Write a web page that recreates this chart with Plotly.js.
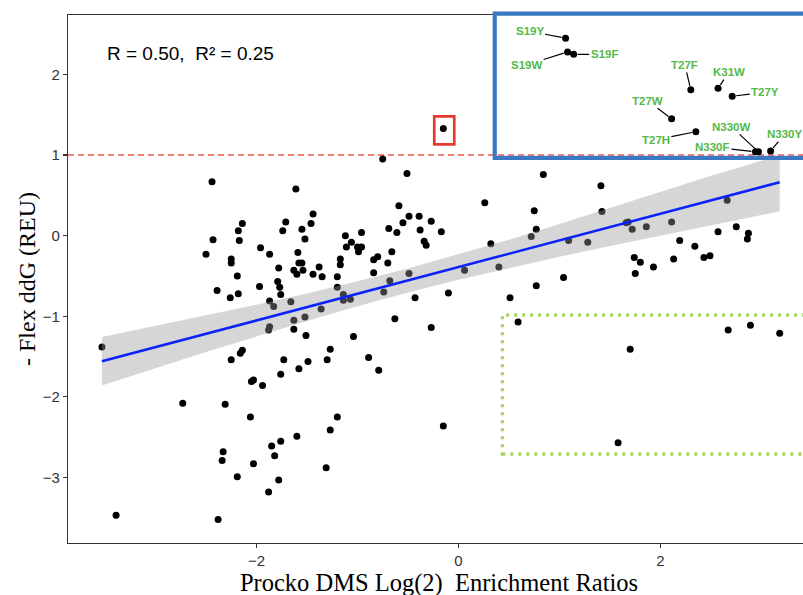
<!DOCTYPE html>
<html>
<head>
<meta charset="utf-8">
<script src="https://cdn.plot.ly/plotly-3.0.1.min.js"></script>
<style>
html,body{margin:0;padding:0;overflow:hidden;background:#fff;}
#chart{width:810px;height:597px;}
</style>
</head>
<body>
<div id="chart"></div>
<script>
// ---- data ----
const dmsX = [-0.15,-0.75,-0.51,-2.44,-1.61,0.84,1.41,0.26,
 -1.44,-1.46,-1.55,-1.71,-1.74,-2.14,-2.18,-2.17,-2.43,-1.52,-1.96,-1.87,-1.59,-2.50,-2.25,-2.25,-1.78,-1.63,-1.58,-1.55,-1.60,-1.54,-1.38,-1.44,-1.35,-2.19,-1.79,-1.77,-1.76,-1.97,-2.39,-2.18,-2.26,-1.87,-1.83,-1.66,-1.63,-1.52,-1.36,-1.87,-1.88,-1.63,-1.51,-2.14,-2.16,-1.27,-3.53,
 -0.59,-0.49,-0.39,-0.55,-0.27,-0.69,-0.61,-0.38,-0.17,-0.96,-1.12,-1.06,-1.11,-1.00,-0.96,-0.99,-0.34,-0.32,-0.66,-1.17,-1.17,-0.84,-0.80,-0.70,-1.20,-0.84,-1.20,-1.14,-1.14,-1.07,-0.68,-0.74,-0.49,-0.43,-0.10,0.06,-0.63,-0.27,-1.04,
 0.75,0.77,1.42,0.72,0.32,0.40,1.09,1.28,1.68,1.66,1.72,1.86,2.11,2.66,2.57,2.75,2.87,2.86,2.19,2.34,2.43,2.49,2.13,1.74,1.80,1.75,1.93,1.04,0.77,0.51,0.59,1.70,2.67,2.89,3.18,1.58,
 -2.25,-1.73,-1.49,-1.30,-0.89,-0.79,-1.58,-1.76,-2.05,-2.03,-1.94,-2.73,-2.31,-2.06,-1.20,-1.27,-0.15,-1.60,-1.76,-1.85,-1.82,-2.33,-2.34,-2.03,-1.31,-2.19,-1.78,-1.88,-3.39,-2.38];
const ddgY = [1.33,0.95,0.77,0.67,0.58,0.76,0.62,0.41,
 0.27,0.15,0.08,0.17,0.06,0.15,0.06,-0.06,-0.05,-0.04,-0.15,-0.23,-0.21,-0.23,-0.29,-0.34,-0.40,-0.43,-0.34,-0.34,-0.48,-0.43,-0.39,-0.48,-0.51,-0.50,-0.57,-0.64,-0.73,-0.63,-0.68,-0.72,-0.77,-0.81,-0.88,-0.82,-1.05,-1.01,-0.91,-1.13,-1.17,-1.16,-1.24,-1.42,-1.46,-1.41,-1.38,
 0.37,0.24,0.24,0.16,0.18,0.09,0.04,0.07,0.05,0.04,0.00,-0.08,-0.14,-0.14,-0.14,-0.20,-0.07,-0.12,-0.20,-0.29,-0.36,-0.30,-0.26,-0.34,-0.51,-0.46,-0.64,-0.73,-0.80,-0.79,-0.56,-0.70,-0.47,-0.77,-0.71,-0.43,-1.03,-1.14,-1.25,
 0.31,0.08,0.30,-0.01,-0.10,-0.39,-0.06,-0.08,0.17,0.16,0.08,0.11,0.17,0.44,0.05,0.11,0.03,-0.04,-0.06,-0.13,-0.27,-0.25,-0.29,-0.27,-0.33,-0.47,-0.39,-0.52,-0.62,-0.77,-1.07,-1.41,-1.17,-1.11,-1.21,-2.57,
 -1.54,-1.54,-1.56,-1.54,-1.51,-1.67,-1.65,-1.72,-1.81,-1.79,-1.86,-2.08,-2.09,-2.25,-2.25,-2.41,-2.36,-2.49,-2.55,-2.61,-2.73,-2.68,-2.79,-2.83,-2.88,-2.99,-3.03,-3.18,-3.47,-3.52];

// labelled variants (inset)
const insetLabels = ["S19Y","S19W","S19F","T27F","K31W","T27Y","T27W","T27H","N330W","N330F","N330Y"];
const insetX = [1.06,1.08,1.14,2.30,2.57,2.71,2.11,2.35,2.97,2.94,3.09];
const insetY = [2.45,2.28,2.25,1.81,1.83,1.73,1.45,1.29,1.04,1.04,1.05];

// linear fit and its confidence band
const fitX   = [-3.53,-3,-2.5,-2,-1.5,-1,-0.5,0,0.5,1,1.5,2,2.5,3,3.18];
const fitY   = [-1.558,-1.383,-1.218,-1.052,-0.887,-0.721,-0.556,-0.39,-0.225,-0.059,0.107,0.272,0.438,0.603,0.663];
const bandHi = [-1.258,-1.122,-0.992,-0.856,-0.716,-0.566,-0.406,-0.232,-0.049,0.144,0.342,0.542,0.745,0.93,0.98];
const bandLo = [-1.858,-1.644,-1.444,-1.248,-1.058,-0.876,-0.706,-0.548,-0.401,-0.262,-0.128,0.002,0.131,0.257,0.303];

const statText = "R = 0.50,  R\u00B2 = 0.25";
const xTicks = [-2,0,2];
const yTicks = [-3,-2,-1,0,1,2];

// ---- layout helpers (positions / styles) ----
const labelOffsets = [[-36,-7],[-41,13],[31,0],[-6,-25],[11,-16],[33,-4],[-24,-18],[-40,8],[-27,-25],[-43,-5],[14,-17]];
const green = "#55b84a";

const traces = [
  {x: dmsX.concat(insetX), y: ddgY.concat(insetY), type:'scatter', mode:'markers',
   marker:{color:'#000', size:7}, hoverinfo:'skip', showlegend:false},
  {x: fitX.concat(fitX.slice().reverse()), y: bandHi.concat(bandLo.slice().reverse()),
   type:'scatter', mode:'lines', fill:'toself', fillcolor:'rgba(153,153,153,0.4)',
   line:{width:0}, hoverinfo:'skip', showlegend:false},
  {x: fitX, y: fitY, type:'scatter', mode:'lines', line:{color:'#0b22fa', width:2.6},
   hoverinfo:'skip', showlegend:false}
];

const annotations = insetLabels.map((t,i)=>({
  x: insetX[i], y: insetY[i], xref:'x', yref:'y', text:'<b>'+t+'</b>',
  showarrow:true, ax: labelOffsets[i][0], ay: labelOffsets[i][1],
  arrowhead:0, arrowwidth:1.2, arrowcolor:'#000', standoff:4, startstandoff:0,
  font:{family:'Liberation Sans, Arial, sans-serif', size:11.5, color:green}
}));
annotations.push({x:-2.649, y:2.263, xref:'x', yref:'y', text: statText, showarrow:false,
  xanchor:'center', yanchor:'middle',
  font:{family:'Liberation Sans, Arial, Helvetica, sans-serif', size:19, color:'#000'}});

const layout = {
  width:810, height:597,
  margin:{l:68, r:0, t:15, b:54},
  paper_bgcolor:'#fff', plot_bgcolor:'#fff',
  showlegend:false,
  font:{family:'Liberation Sans, Arial, sans-serif'},
  xaxis:{range:[-3.866,3.480], tickvals:xTicks, ticks:'outside', ticklen:4, tickwidth:1.2, tickcolor:'#333',
    showline:true, linecolor:'#333', linewidth:1.2, mirror:true, showgrid:false, zeroline:false,
    tickfont:{size:15, color:'#333'}, automargin:false,
    title:{text:'Procko DMS Log(2)  Enrichment Ratios', standoff:14,
      font:{family:'Liberation Serif, Times New Roman, serif', size:24.5, color:'#000'}}},
  yaxis:{range:[-3.813,2.738], tickvals:yTicks, ticks:'outside', ticklen:4, tickwidth:1.2, tickcolor:'#333',
    showline:true, linecolor:'#333', linewidth:1.2, mirror:true, showgrid:false, zeroline:false,
    tickfont:{size:15, color:'#333'}, automargin:false,
    title:{text:'- Flex ddG (REU)', standoff:0,
      font:{family:'Liberation Serif, Times New Roman, serif', size:24, color:'#000'}}},
  shapes:[
    {type:'line', xref:'paper', yref:'y', x0:0, x1:1, y0:1, y1:1, layer:'below',
     line:{color:'#f0554b', width:1.5, dash:'6px,4px'}},
    {type:'rect', xref:'x', yref:'y', x0:-0.240, x1:-0.042, y0:1.134, y1:1.481,
     line:{color:'#e53a2f', width:2.7}},
    {type:'rect', xref:'x', yref:'y', x0:0.434, x1:3.7, y0:-2.709, y1:-0.984,
     line:{color:'#a3d65c', width:3.3, dash:'3px,5px'}},
    {type:'rect', xref:'paper', yref:'paper', x0:0.5751, x1:1.05, y0:0.7295, y1:1.0025,
     line:{color:'#3a78c2', width:4.2}}
  ],
  annotations: annotations
};

Plotly.newPlot('chart', traces, layout, {staticPlot:true, displayModeBar:false});
</script>
</body>
</html>
